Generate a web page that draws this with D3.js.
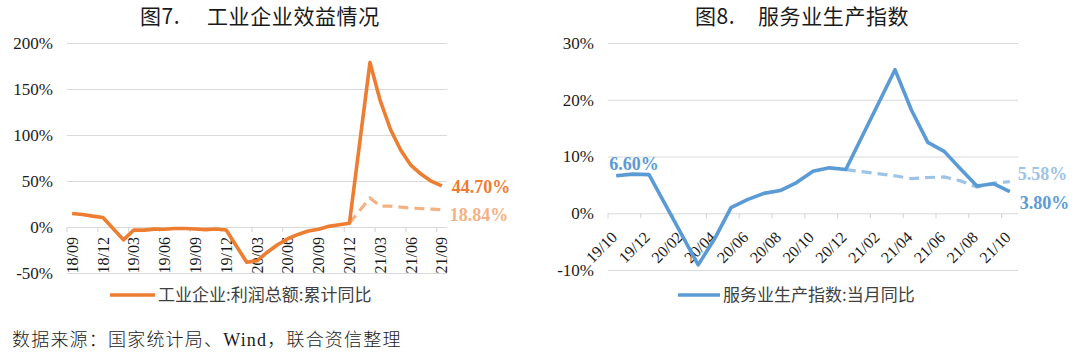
<!DOCTYPE html>
<html>
<head>
<meta charset="utf-8">
<script src="https://cdn.jsdelivr.net/npm/d3@7"></script>
<style>
  body { margin: 0; background: #fff; }
</style>
</head>
<body>
<svg id="chart" width="1080" height="354"></svg>
<script>
const SERIF = '"Liberation Serif", "Times New Roman", serif';
const CJK = '"Noto Sans CJK SC", sans-serif';

// left panel: industrial profits, cumulative yoy (%)
const profitMonths = [
  '18/09','18/10','18/11','18/12','19/01','19/02','19/03','19/04','19/05','19/06','19/07','19/08',
  '19/09','19/10','19/11','19/12','20/01','20/02','20/03','20/04','20/05','20/06','20/07','20/08',
  '20/09','20/10','20/11','20/12','21/01','21/02','21/03','21/04','21/05','21/06','21/07','21/08','21/09'
];
const profitYoY = [
  14.7, 13.6, 11.8, 10.3, null, -14.0, -3.3, -3.4, -2.3, -2.4, -1.7, -1.7,
  -2.1, -2.9, -2.1, -3.3, null, -38.3, -36.7, -27.4, -19.3, -12.8, -8.1, -4.4,
  -2.4, 0.7, 2.4, 4.1, null, 178.9, 137.3, 106.0, 83.4, 66.9, 57.3, 49.5, 44.7
];
// two-year average, from 20/12 on
const profitAvgMonths = ['20/12','21/02','21/03','21/04','21/05','21/06','21/07','21/08','21/09'];
const profitAvg = [4.1, 31.6, 22.6, 22.6, 21.7, 20.6, 20.0, 19.5, 18.84];
const profitTicks = [-50, 0, 50, 100, 150, 200];

// right panel: services production index, monthly yoy (%)
const serviceMonths = [
  '19/10','19/11','19/12','20/01','20/02','20/03','20/04','20/05','20/06','20/07','20/08','20/09','20/10',
  '20/11','20/12','21/01','21/02','21/03','21/04','21/05','21/06','21/07','21/08','21/09','21/10'
];
const serviceYoY = [
  6.6, 6.9, 6.8, null, null, -9.1, -4.5, 1.0, 2.4, 3.5, 4.0, 5.4, 7.4,
  8.0, 7.7, null, null, 25.3, 18.2, 12.5, 10.9, 7.8, 4.8, 5.2, 3.8
];
const serviceAvgMonths = ['20/12','21/03','21/04','21/05','21/06','21/07','21/08','21/09','21/10'];
const serviceAvg = [7.7, 6.6, 6.1, 6.3, 6.4, 5.7, 4.6, 5.3, 5.58];
const serviceTicks = [-10, 0, 10, 20, 30];

const svg = d3.select('svg#chart');

function drawPanel(cfg) {
  const g = svg.append('g');
  const x = d3.scaleBand().domain(cfg.months).range(cfg.xRange).padding(0);
  const y = d3.scaleLinear().domain(cfg.yDomain).range(cfg.yRange);
  const cx = m => x(m) + x.bandwidth() / 2;

  // title
  const title = g.append('text')
      .style('font-family', CJK)
      .attr('y', 24).attr('font-size', 21).attr('letter-spacing', 0.6).attr('fill', '#1a1a1a');
  title.append('tspan').attr('x', cfg.titleX[0]).text(cfg.title[0]);
  title.append('tspan').attr('x', cfg.titleX[1]).text(cfg.title[1]);

  // grid + y labels
  const yAxis = g.append('g')
      .attr('transform', `translate(${cfg.xRange[0]},0)`)
      .call(d3.axisLeft(y).tickValues(cfg.yTicks)
        .tickSize(-(cfg.xRange[1] - cfg.xRange[0]))
        .tickPadding(14)
        .tickFormat(d => d + '%'));
  yAxis.select('.domain').remove();
  yAxis.selectAll('line').attr('stroke', '#d9d9d9').attr('stroke-width', 1.2);
  yAxis.selectAll('text')
      .style('font-family', SERIF).style('font-size', '17px').style('fill', '#1a1a1a');

  // zero axis ticks (at band edges)
  const tickMonths = cfg.months.filter((m, i) => i % cfg.every === 0);
  g.selectAll('.xtick').data(tickMonths).join('line')
      .attr('x1', m => x(m)).attr('x2', m => x(m))
      .attr('y1', y(0)).attr('y2', y(0) + 5)
      .attr('stroke', '#d9d9d9').attr('stroke-width', 1.2);

  // category labels
  g.selectAll('.xlab').data(tickMonths).join('text')
      .style('font-family', SERIF).style('font-size', cfg.xFont + 'px').style('fill', '#1a1a1a')
      .attr('text-anchor', 'end')
      .attr('dy', '0.35em')
      .attr('transform', m => `translate(${cx(m) + cfg.labelShift[0]},${y(0) + cfg.labelShift[1]}) rotate(${cfg.labelAngle})`)
      .text(m => m);

  const line = d3.line().x(d => cx(d.m)).y(d => y(d.v));

  // two-year average (dashed)
  const avg = cfg.avgMonths.map((m, i) => ({ m, v: cfg.avg[i] }));
  g.append('path').datum(avg)
      .attr('d', line).attr('fill', 'none')
      .attr('stroke', cfg.light).attr('stroke-width', 3.2)
      .attr('stroke-dasharray', '10,6');

  // main series, gaps bridged
  const main = cfg.months.map((m, i) => ({ m, v: cfg.values[i] })).filter(d => d.v != null);
  g.append('path').datum(main)
      .attr('d', line).attr('fill', 'none')
      .attr('stroke', cfg.color).attr('stroke-width', 3.6)
      .attr('stroke-linejoin', 'round');

  // value call-outs
  cfg.notes.forEach(n => {
    g.append('text')
        .attr('x', cx(n.m) + n.dx).attr('y', y(n.v) + n.dy)
        .attr('dy', '0.35em')
        .style('font-family', SERIF).style('font-size', '18px').style('font-weight', 'bold')
        .style('fill', n.light ? cfg.light : cfg.color)
        .text(n.v.toFixed(2) + '%');
  });

  // legend
  const lg = g.append('g');
  lg.append('line')
      .attr('x1', cfg.legendX).attr('x2', cfg.legendX + cfg.legendLen)
      .attr('y1', 295).attr('y2', 295)
      .attr('stroke', cfg.color).attr('stroke-width', 3.6);
  lg.append('text')
      .attr('x', cfg.legendX + cfg.legendLen + 3).attr('y', 295).attr('dy', '0.36em')
      .style('font-family', CJK).style('font-size', '17px').style('fill', '#404040')
      .text(cfg.legend);
}

drawPanel({
  months: profitMonths, values: profitYoY,
  avgMonths: profitAvgMonths, avg: profitAvg,
  xRange: [67, 447], yDomain: [-50, 200], yRange: [273, 43], yTicks: profitTicks,
  every: 3, xFont: 16, labelAngle: -90, labelShift: [0, 10],
  color: '#ED7D31', light: '#F4B183',
  title: ['图7.', '工业企业效益情况'], titleX: [140, 207],
  notes: [
    { m: '21/09', v: 44.7, dx: 10, dy: 1 },
    { m: '21/09', v: 18.84, dx: 8, dy: 5, light: true }
  ],
  legend: '工业企业:利润总额:累计同比', legendX: 110, legendLen: 45
});

drawPanel({
  months: serviceMonths, values: serviceYoY,
  avgMonths: serviceAvgMonths, avg: serviceAvg,
  xRange: [608, 1018], yDomain: [-10, 30], yRange: [270, 43], yTicks: serviceTicks,
  every: 2, xFont: 16, labelAngle: -45, labelShift: [-2, 21],
  color: '#5B9BD5', light: '#9DC3E6',
  title: ['图8.', '服务业生产指数'], titleX: [695, 758],
  notes: [
    { m: '19/10', v: 6.6, dx: -7, dy: -12 },
    { m: '21/10', v: 5.58, dx: 8, dy: -8, light: true },
    { m: '21/10', v: 3.8, dx: 10, dy: 11 }
  ],
  legend: '服务业生产指数:当月同比', legendX: 678, legendLen: 42
});

// source note
svg.append('text')
    .attr('x', 12).attr('y', 346)
    .style('font-family', '"Liberation Serif", "Noto Sans CJK SC", serif')
    .style('font-size', '18px').style('font-weight', 300).style('fill', '#1a1a1a')
    .attr('letter-spacing', 1.2)
    .text('数据来源：国家统计局、Wind，联合资信整理');
</script>
</body>
</html>
